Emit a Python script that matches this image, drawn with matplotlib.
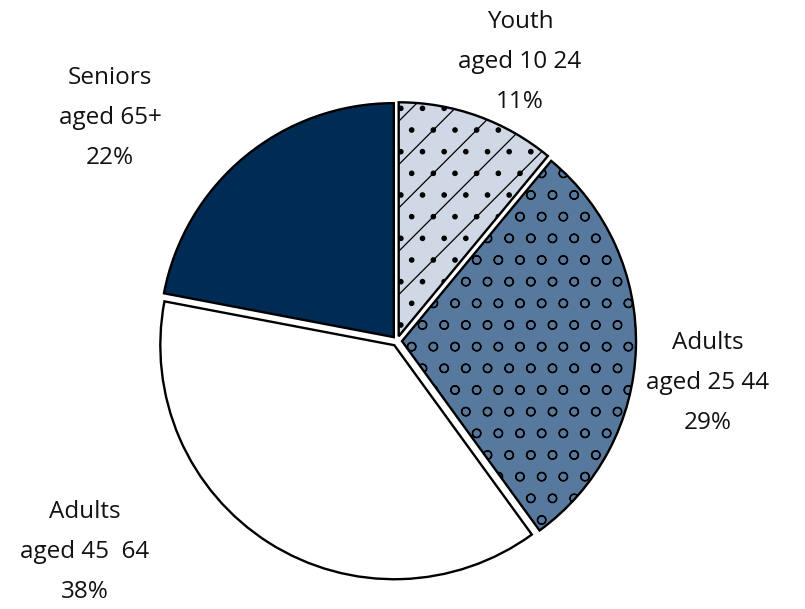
import matplotlib.pyplot as plt

DPI = 130
k = 100 / DPI  # keeps text and line sizes as at 100 dpi

plt.rcParams['font.family'] = ['Open Sans', 'DejaVu Sans']
plt.rcParams['hatch.linewidth'] = 0.9 * k
plt.rcParams['hatch.color'] = '#222222'

# data
groups = ['Youth\naged 10 24', 'Adults\naged 25 44', 'Adults\naged 45  64', 'Seniors\naged 65+']
shares = [11, 29, 38, 22]
colors = ['#d0d8e6', '#57799e', '#ffffff', '#002b54']
hatches = ['/.', 'o', '', '']
label_xy = [(520, 547), (708, 226), (85, 57), (110, 491)]

fig = plt.figure(figsize=(805 / DPI, 609 / DPI), dpi=DPI)
ax = fig.add_axes([0, 0, 1, 1])

# explode is in data units here (1 unit = 1 px)
wedges, _ = ax.pie(shares, colors=colors, startangle=90, counterclock=False,
                   center=(397, 268), radius=234, explode=[5] * 4,
                   wedgeprops=dict(edgecolor='black', linewidth=1.7 * k))
for w, h in zip(wedges, hatches):
    w.set_hatch(h)

ax.set_xlim(0, 805)
ax.set_ylim(0, 609)
ax.set_aspect('equal')
ax.axis('off')

for g, s, (x, y) in zip(groups, shares, label_xy):
    ax.text(x, y, f'{g}\n{s}%', ha='center', va='center', fontsize=17.5 * k,
            linespacing=1.88, color='#111111')

fig.savefig('out.png', dpi=DPI)
